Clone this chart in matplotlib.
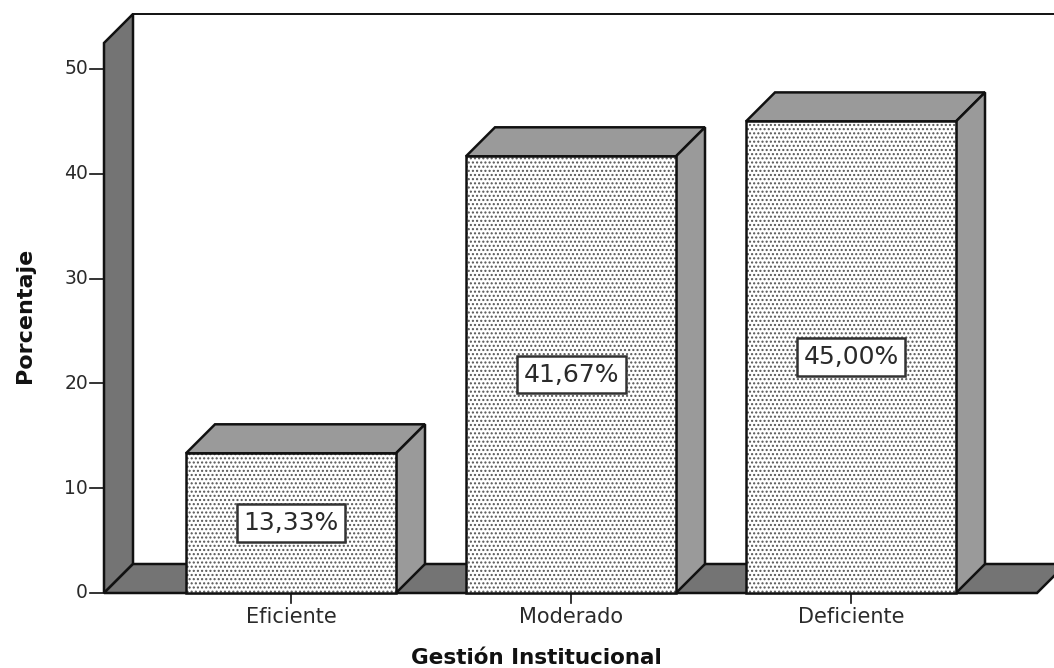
import matplotlib
matplotlib.use('Agg')
from matplotlib import pyplot as plt
from matplotlib.patches import Polygon, Rectangle

# Datos de la gestión institucional
categorias = ['Eficiente', 'Moderado', 'Deficiente']
porcentajes = [13.33, 41.67, 45.00]
etiquetas = ['13,33%', '41,67%', '45,00%']
ticks_y = [0, 10, 20, 30, 40, 50]

# Escalas: 280 px por categoría y 10.48 px por unidad porcentual
px_x = 280.0
px_y = 10.48
prof_x = 29 / px_x
prof_y = 29 / px_y
ancho = 0.75
izq = -187 / px_x
der = 746 / px_x
techo = 55.25

GRIS_OSCURO = '#747474'
GRIS_CLARO = '#9a9a9a'
NEGRO = '#111111'
LW = 1.8

plt.rcParams['font.family'] = ['DejaVu Sans']

fig = plt.figure(figsize=(10.54, 6.68), dpi=100)
ax = fig.add_axes([0, 0, 1, 1])
ax.set_xlim(-291 / px_x, 763 / px_x)
ax.set_ylim(-75 / px_y, 593 / px_y)
ax.axis('off')


def cara(puntos, color, z):
    ax.add_patch(Polygon(puntos, closed=True, facecolor=color, edgecolor=NEGRO,
                         linewidth=LW, zorder=z, joinstyle='miter'))


# Pared izquierda y suelo
cara([(izq, 0), (izq + prof_x, prof_y), (izq + prof_x, techo), (izq, techo - prof_y)],
     GRIS_OSCURO, 1)
cara([(izq, 0), (izq + prof_x, prof_y), (der + prof_x, prof_y), (der, 0)],
     GRIS_OSCURO, 1)
ax.plot([izq + prof_x, 763 / px_x], [techo, techo], color=NEGRO, lw=1.4, zorder=1)

# Marcas de los ejes
for t in ticks_y:
    ax.plot([izq - 14 / px_x, izq], [t, t], color=NEGRO, lw=1.2, zorder=1)
    ax.text(izq - 16 / px_x, t, str(t), ha='right', va='center', fontsize=13.5,
            color='#2a2a2a')

# Barras con su cara superior y lateral
for i, (cat, val, txt) in enumerate(zip(categorias, porcentajes, etiquetas)):
    x0 = i - ancho / 2
    x1 = i + ancho / 2
    cara([(x0, val), (x0 + prof_x, val + prof_y), (x1 + prof_x, val + prof_y), (x1, val)],
         GRIS_CLARO, 3)
    cara([(x1, 0), (x1 + prof_x, prof_y), (x1 + prof_x, val + prof_y), (x1, val)],
         GRIS_CLARO, 3)
    ax.add_patch(Rectangle((x0, 0), ancho, val, facecolor='white', edgecolor='#555555',
                           hatch='....', linewidth=0, zorder=3))
    ax.add_patch(Rectangle((x0, 0), ancho, val, fill=False, edgecolor=NEGRO,
                           linewidth=LW, zorder=4))
    ax.text(i, val / 2, txt, ha='center', va='center', fontsize=18, color='#2a2a2a',
            zorder=5, bbox=dict(boxstyle='square,pad=0.27', facecolor='white',
                                edgecolor='#333333', linewidth=1.8))
    ax.plot([i, i], [0, -10 / px_y], color=NEGRO, lw=1.2, zorder=2)
    ax.text(i, -24 / px_y, cat, ha='center', va='center', fontsize=15, color='#2a2a2a')

# Títulos de los ejes
ax.text(245 / px_x, -65 / px_y, 'Gestión Institucional', ha='center', va='center',
        fontsize=15.5, fontweight='bold', color='#111111')
ax.text(-266 / px_x, 277.5 / px_y, 'Porcentaje', ha='center', va='center', rotation=90,
        fontsize=16, fontweight='bold', color='#111111')

fig.savefig('out.png', dpi=100)
